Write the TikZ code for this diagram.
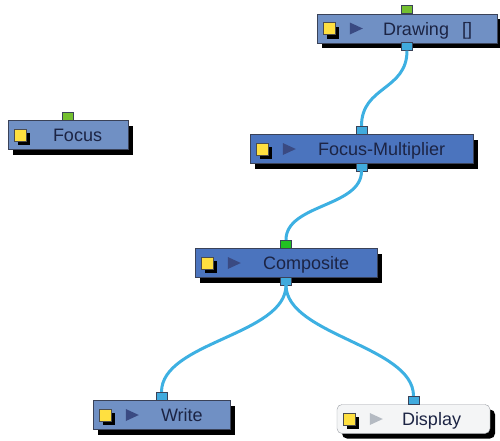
\documentclass[tikz,border=0pt]{standalone}
\usepackage{fontspec}
\setmainfont{Liberation Sans}
\usepackage{tikz}
\usetikzlibrary{positioning,shadows}
\definecolor{ModuleFill}{HTML}{7090C4}
\definecolor{ActiveFill}{HTML}{4B74BE}
\definecolor{ModuleEdge}{HTML}{3A4258}
\definecolor{DisplayFill}{HTML}{F4F5F6}
\definecolor{DisplayEdge}{HTML}{9A9EA4}
\definecolor{PortBlue}{HTML}{40AADD}
\definecolor{PortGreen}{HTML}{74C030}
\definecolor{PortLime}{HTML}{22C022}
\definecolor{LinkBlue}{HTML}{3DB0E2}
\definecolor{IconYellow}{HTML}{FFE040}
\definecolor{PlayBlue}{HTML}{3A4A82}
\definecolor{PlayGray}{HTML}{B4BAC2}
\definecolor{LabelInk}{HTML}{1C2444}

\begin{document}
\begin{tikzpicture}[
  x=1pt, y=-1pt,
  module/.style={draw=ModuleEdge, fill=ModuleFill, minimum height=29pt, inner sep=0pt,
    drop shadow={shadow xshift=5pt, shadow yshift=-5pt, fill=black, opacity=1}},
  caption/.style={font=\fontsize{18}{20}\selectfont, text=LabelInk, inner sep=0pt,
    text height=13pt, text depth=0pt},
  port/.style={draw=ModuleEdge, fill=PortBlue, minimum width=11pt, minimum height=8pt, inner sep=0pt},
  link/.style={LinkBlue, line width=3pt}
]
  \useasboundingbox (0,0) rectangle (500,440);

  % modules
  \node[module, minimum width=180pt] (drawing) at (407,28.5) {};
  \node[module, minimum width=120pt] (focus) at (68,135) {};
  \node[module, minimum width=223pt, fill=ActiveFill] (fm) at (361.5,149) {};
  \node[module, minimum width=182pt, fill=ActiveFill] (comp) at (286,263) {};
  \node[module, minimum width=137pt] (write) at (161.5,415) {};
  \node[module, minimum width=153pt, rounded corners=5pt, fill=DisplayFill, draw=DisplayEdge] (display) at (413.5,419) {};

  % icons
  \foreach \m in {drawing,focus,fm,comp,write,display} {
    \fill[black] ([shift={(10,-2)}]\m.west) rectangle +(12,12);
    \filldraw[fill=IconYellow, draw=black!70, line width=0.4pt] ([shift={(6,-6)}]\m.west) rectangle +(12,12);
  }
  \foreach \m in {drawing,fm,comp,write}
    \fill[PlayBlue] ([shift={(33,-6)}]\m.west) -- ++(13,6) -- ++(-13,6) -- cycle;
  \fill[PlayGray] ([shift={(33,-6)}]display.west) -- ++(13,6) -- ++(-13,6) -- cycle;

  % names
  \node[caption, right=66pt of drawing.west] (drawing-text) {Drawing\hspace{13pt}[]};
  \node[caption, right=45pt of focus.west] (focus-text) {Focus};
  \node[caption, right=68pt of fm.west] (fm-text) {Focus-Multiplier};
  \node[caption, right=68pt of comp.west] (comp-text) {Composite};
  \node[caption, right=68pt of write.west] (write-text) {Write};
  \node[caption, right=65pt of display.west] (display-text) {Display};

  % ports
  \node[port, fill=PortGreen, above=0pt of drawing.north] (drawing-in) {};
  \node[port, below=-1pt of drawing.south] (drawing-out) {};
  \node[port, fill=PortGreen, above=0pt of focus.north] (focus-in) {};
  \node[port, above=0pt of fm.north] (fm-in) {};
  \node[port, below=-1pt of fm.south] (fm-out) {};
  \node[port, fill=PortLime, above=0pt of comp.north] (comp-in) {};
  \node[port, below=-1pt of comp.south] (comp-out) {};
  \node[port, above=0pt of write.north] (write-in) {};
  \node[port, above=0pt of display.north] (display-in) {};

  % links
  \draw[link] (drawing-out.south) .. controls +(0,40) and +(0,-40) .. (fm-in.north);
  \draw[link] (fm-out.south) .. controls +(0,36) and +(0,-36) .. (comp-in.north);
  \draw[link] (comp-out.south) .. controls +(0,50) and +(0,-50) .. (write-in.north);
  \draw[link] (comp-out.south) .. controls +(0,50) and +(0,-50) .. (display-in.north);
\end{tikzpicture}
\end{document}
